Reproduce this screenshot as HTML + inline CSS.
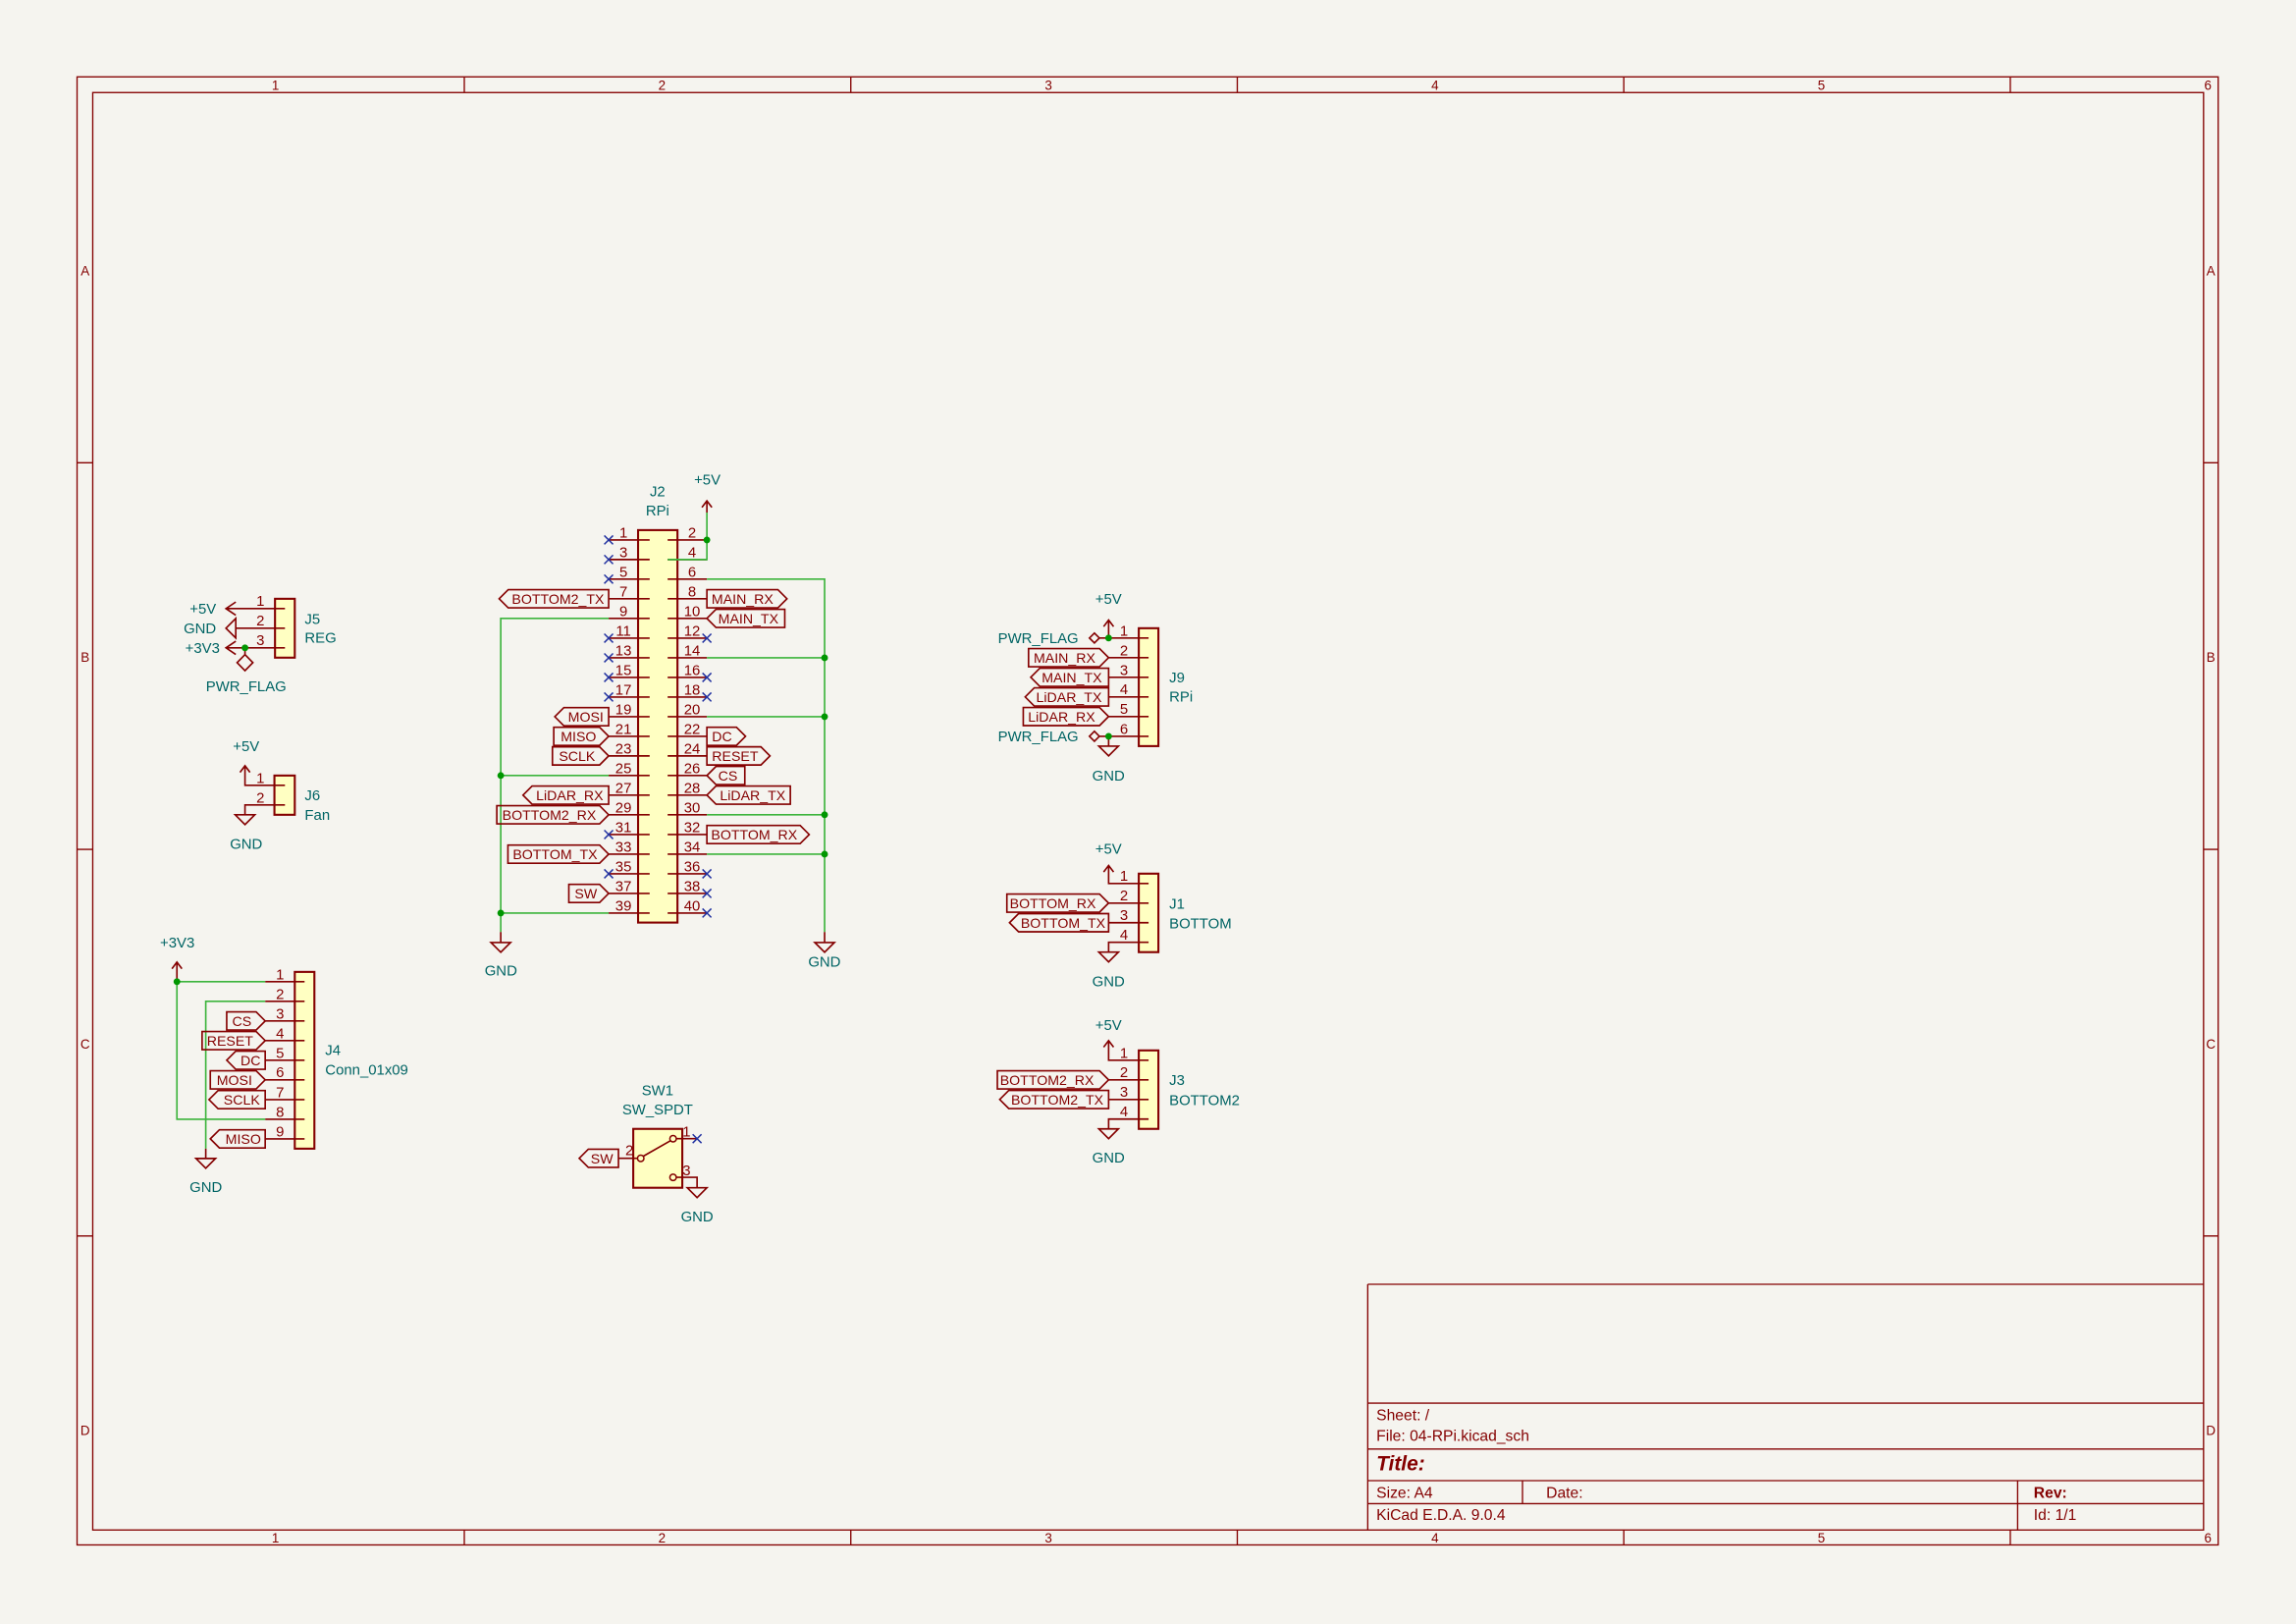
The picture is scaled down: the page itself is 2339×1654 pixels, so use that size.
<!DOCTYPE html>
<html><head><meta charset="utf-8"><style>
html,body{margin:0;padding:0;background:#f5f4ef;}
svg{display:block}
text{font-family:"Liberation Sans",sans-serif;}
.t{fill:#006464;font-size:10px}
.n{fill:#840000;font-size:10px}
.l{fill:#840000;font-size:9.5px;text-anchor:middle}
.f{fill:#840000;font-size:9px}
.p{stroke:#840000;stroke-width:1.1;fill:none}
.w{stroke:#3cb43c;stroke-width:1.1;fill:none}
.b{stroke:#840000;stroke-width:1.4;fill:#ffffc2}
.lb{stroke:#840000;stroke-width:1.1;fill:none}
.x{stroke:#2030a0;stroke-width:1;fill:none}
.fr{stroke:#840000;stroke-width:0.9;fill:none}
</style></head><body>
<svg width="2339" height="1654" viewBox="0 0 1568 1109" xmlns="http://www.w3.org/2000/svg">
<rect x="0" y="0" width="1568" height="1109" fill="#f5f4ef"/>
<!-- frame -->
<rect class="fr" x="52.5" y="52.5" width="1462.5" height="1002.5"/>
<rect class="fr" x="63.2" y="63.2" width="1441.8" height="981.6"/>
<path class="fr" d="M317 52.5V63.2M581 52.5V63.2M845 52.5V63.2M1109 52.5V63.2M1373 52.5V63.2M317 1044.8V1055M581 1044.8V1055M845 1044.8V1055M1109 1044.8V1055M1373 1044.8V1055M52.5 316H63.2M52.5 580H63.2M52.5 844H63.2M1505 316H1515M1505 580H1515M1505 844H1515"/>
<g class="f" text-anchor="middle">
<text x="188" y="61.5">1</text><text x="452" y="61.5">2</text><text x="716" y="61.5">3</text><text x="980" y="61.5">4</text><text x="1244" y="61.5">5</text><text x="1508" y="61.5">6</text>
<text x="188" y="1053.5">1</text><text x="452" y="1053.5">2</text><text x="716" y="1053.5">3</text><text x="980" y="1053.5">4</text><text x="1244" y="1053.5">5</text><text x="1508" y="1053.5">6</text>
<text x="58" y="188">A</text><text x="58" y="452">B</text><text x="58" y="716">C</text><text x="58" y="980">D</text>
<text x="1510" y="188">A</text><text x="1510" y="452">B</text><text x="1510" y="716">C</text><text x="1510" y="980">D</text>
</g>
<!-- title block -->
<path class="fr" d="M934.1 877H1505M934.1 877V1044.8M934.1 958.2H1505M934.1 989.5H1505M934.1 1011.1H1505M934.1 1026.8H1505M1039.8 1011.1V1026.8M1378 1011.1V1044.8"/>
<g class="n" style="font-size:10.5px">
<text x="940" y="970">Sheet: /</text>
<text x="940" y="984">File: 04-RPi.kicad_sch</text>
<text x="940" y="1004" style="font-size:14px;font-weight:bold;font-style:italic">Title:</text>
<text x="940" y="1023">Size: A4</text>
<text x="1056" y="1023">Date:</text>
<text x="1389" y="1023" style="font-weight:bold">Rev:</text>
<text x="940" y="1038">KiCad E.D.A. 9.0.4</text>
<text x="1389" y="1038">Id: 1/1</text>
</g>

<!-- ===== J2 ===== -->
<rect class="b" x="435.7" y="362" width="26.9" height="268"/>
<path class="p" d="M415.6 368.7H443.6M415.6 382.1H443.6M415.6 395.5H443.6M415.6 408.9H443.6M415.6 422.3H443.6M415.6 435.8H443.6M415.6 449.2H443.6M415.6 462.6H443.6M415.6 476H443.6M415.6 489.4H443.6M415.6 502.8H443.6M415.6 516.2H443.6M415.6 529.6H443.6M415.6 543H443.6M415.6 556.4H443.6M415.6 569.9H443.6M415.6 583.3H443.6M415.6 596.7H443.6M415.6 610.1H443.6M415.6 623.5H443.6
M455.9 368.7H482.7M455.9 382.1H482.7M455.9 395.5H482.7M455.9 408.9H482.7M455.9 422.3H482.7M455.9 435.8H482.7M455.9 449.2H482.7M455.9 462.6H482.7M455.9 476H482.7M455.9 489.4H482.7M455.9 502.8H482.7M455.9 516.2H482.7M455.9 529.6H482.7M455.9 543H482.7M455.9 556.4H482.7M455.9 569.9H482.7M455.9 583.3H482.7M455.9 596.7H482.7M455.9 610.1H482.7M455.9 623.5H482.7"/>
<g class="n" text-anchor="middle">
<text x="425.7" y="367">1</text><text x="425.7" y="380.4">3</text><text x="425.7" y="393.8">5</text><text x="425.7" y="407.2">7</text><text x="425.7" y="420.6">9</text><text x="425.7" y="434.1">11</text><text x="425.7" y="447.5">13</text><text x="425.7" y="460.9">15</text><text x="425.7" y="474.3">17</text><text x="425.7" y="487.7">19</text><text x="425.7" y="501.1">21</text><text x="425.7" y="514.5">23</text><text x="425.7" y="527.9">25</text><text x="425.7" y="541.3">27</text><text x="425.7" y="554.7">29</text><text x="425.7" y="568.2">31</text><text x="425.7" y="581.6">33</text><text x="425.7" y="595">35</text><text x="425.7" y="608.4">37</text><text x="425.7" y="621.8">39</text>
<text x="472.6" y="367">2</text><text x="472.6" y="380.4">4</text><text x="472.6" y="393.8">6</text><text x="472.6" y="407.2">8</text><text x="472.6" y="420.6">10</text><text x="472.6" y="434.1">12</text><text x="472.6" y="447.5">14</text><text x="472.6" y="460.9">16</text><text x="472.6" y="474.3">18</text><text x="472.6" y="487.7">20</text><text x="472.6" y="501.1">22</text><text x="472.6" y="514.5">24</text><text x="472.6" y="527.9">26</text><text x="472.6" y="541.3">28</text><text x="472.6" y="554.7">30</text><text x="472.6" y="568.2">32</text><text x="472.6" y="581.6">34</text><text x="472.6" y="595">36</text><text x="472.6" y="608.4">38</text><text x="472.6" y="621.8">40</text>
</g>
<text class="t" x="449" y="339" text-anchor="middle">J2</text>
<text class="t" x="449" y="352" text-anchor="middle">RPi</text>
<!-- no connects J2 -->
<path class="x" d="M412.6 365.7l6 6m0 -6l-6 6M412.6 379.1l6 6m0 -6l-6 6M412.6 392.5l6 6m0 -6l-6 6M412.6 432.8l6 6m0 -6l-6 6M412.6 446.2l6 6m0 -6l-6 6M412.6 459.6l6 6m0 -6l-6 6M412.6 473l6 6m0 -6l-6 6M412.6 566.9l6 6m0 -6l-6 6M412.6 593.7l6 6m0 -6l-6 6
M479.7 432.8l6 6m0 -6l-6 6M479.7 459.6l6 6m0 -6l-6 6M479.7 473l6 6m0 -6l-6 6M479.7 593.7l6 6m0 -6l-6 6M479.7 607.1l6 6m0 -6l-6 6M479.7 620.5l6 6m0 -6l-6 6"/>
<!-- +5V -->
<path class="w" d="M482.7 350V382.1H455.9"/>
<path class="p" d="M482.7 342V350M479.3 346.5L482.7 342L486.1 346.5"/>
<circle cx="482.7" cy="368.7" r="2.3" fill="#009600"/>
<text class="t" x="483" y="331" text-anchor="middle">+5V</text>
<!-- right GND bus -->
<path class="w" d="M482.7 395.5H563.1V636.5M482.7 449.2H563.1M482.7 489.4H563.1M482.7 556.4H563.1M482.7 583.3H563.1"/>
<path class="p" d="M563.1 636.5V643.6M556.4 643.6H569.8L563.1 650.3Z"/>
<circle cx="563.1" cy="449.2" r="2.3" fill="#009600"/><circle cx="563.1" cy="489.4" r="2.3" fill="#009600"/><circle cx="563.1" cy="556.4" r="2.3" fill="#009600"/><circle cx="563.1" cy="583.3" r="2.3" fill="#009600"/>
<text class="t" x="563" y="660" text-anchor="middle">GND</text>
<!-- left GND bus -->
<path class="w" d="M415.6 422.3H341.9V636.5M341.9 529.6H415.6M341.9 623.5H415.6"/>
<path class="p" d="M341.9 636.5V643.6M335.2 643.6H348.6L341.9 650.3Z"/>
<circle cx="341.9" cy="529.6" r="2.3" fill="#009600"/><circle cx="341.9" cy="623.5" r="2.3" fill="#009600"/>
<text class="t" x="342" y="666" text-anchor="middle">GND</text>
<!-- J2 labels -->
<g class="lb">
<path d="M340.8 408.9L347 402.7H415.6V415.1H347Z"/>
<path d="M378.8 489.4L385 483.2H415.6V495.6H385Z"/>
<path d="M378.1 496.6H409.4L415.6 502.8L409.4 509H378.1Z"/>
<path d="M377.2 510H409.4L415.6 516.2L409.4 522.4H377.2Z"/>
<path d="M357.1 543L363.3 536.8H415.6V549.2H363.3Z"/>
<path d="M339.2 550.2H409.4L415.6 556.4L409.4 562.6H339.2Z"/>
<path d="M346.8 577.1H409.4L415.6 583.3L409.4 589.5H346.8Z"/>
<path d="M388.4 603.9H409.4L415.6 610.1L409.4 616.3H388.4Z"/>
<path d="M482.7 402.7H531.2L537.4 408.9L531.2 415.1H482.7Z"/>
<path d="M482.7 422.3L488.9 416.1H535.9V428.5H488.9Z"/>
<path d="M482.7 496.6H502.9L509.1 502.8L502.9 509H482.7Z"/>
<path d="M482.7 510H519.6L525.8 516.2L519.6 522.4H482.7Z"/>
<path d="M482.7 529.6L488.9 523.4H508.6V535.8H488.9Z"/>
<path d="M482.7 543L488.9 536.8H539.7V549.2H488.9Z"/>
<path d="M482.7 563.7H546.4L552.6 569.9L546.4 576.1H482.7Z"/>
</g>
<g class="l">
<text x="381" y="412.4">BOTTOM2_TX</text>
<text x="400" y="492.9">MOSI</text>
<text x="395" y="506.3">MISO</text>
<text x="394" y="519.7">SCLK</text>
<text x="389" y="546.5">LiDAR_RX</text>
<text x="375" y="559.9">BOTTOM2_RX</text>
<text x="379" y="586.8">BOTTOM_TX</text>
<text x="400" y="613.6">SW</text>
<text x="507" y="412.4">MAIN_RX</text>
<text x="511" y="425.8">MAIN_TX</text>
<text x="493" y="506.3">DC</text>
<text x="502" y="519.7">RESET</text>
<text x="497" y="533.1">CS</text>
<text x="514" y="546.5">LiDAR_TX</text>
<text x="515" y="573.4">BOTTOM_RX</text>
</g>

<!-- ===== J5 ===== -->
<rect class="b" x="187.7" y="408.9" width="13.5" height="40.2"/>
<path class="p" d="M154.2 415.6H194.5M160.9 429H194.5M154.2 442.4H194.5M160.9 411.1L154.2 415.6L160.9 420.1M160.9 422.3V435.7L154.2 429Z M160.9 437.9L154.2 442.4L160.9 446.9M167.2 442.4V447L161.8 452.5L167.2 458L172.6 452.5L167.2 447"/>
<circle cx="167.2" cy="442.4" r="2.3" fill="#009600"/>
<g class="n" text-anchor="middle"><text x="177.7" y="413.8">1</text><text x="177.7" y="427.2">2</text><text x="177.7" y="440.6">3</text></g>
<g class="t" text-anchor="end"><text x="147.5" y="419">+5V</text><text x="147.5" y="432.4">GND</text><text x="150" y="445.8">+3V3</text></g>
<text class="t" x="168" y="472" text-anchor="middle">PWR_FLAG</text>
<text class="t" x="208" y="426">J5</text><text class="t" x="208" y="439">REG</text>

<!-- ===== J6 ===== -->
<rect class="b" x="187.3" y="529.6" width="13.9" height="26.8"/>
<path class="p" d="M167.2 522.9V536.3H194.5M163.8 527.4L167.2 522.9L170.6 527.4M194.5 549.7H167.2V556.4M160.5 556.4H173.9L167.2 563.1Z"/>
<g class="n" text-anchor="middle"><text x="177.7" y="534.6">1</text><text x="177.7" y="548">2</text></g>
<text class="t" x="168" y="513" text-anchor="middle">+5V</text>
<text class="t" x="168" y="579.5" text-anchor="middle">GND</text>
<text class="t" x="208" y="546.5">J6</text><text class="t" x="208" y="560">Fan</text>

<!-- ===== J4 ===== -->
<rect class="b" x="201.2" y="663.7" width="13.4" height="120.7"/>
<path class="p" d="M181 670.4H207.9M181 683.8H207.9M181 697.2H207.9M181 710.6H207.9M181 724H207.9M181 737.4H207.9M181 750.9H207.9M181 764.3H207.9M181 777.7H207.9"/>
<g class="n" text-anchor="middle"><text x="191.1" y="668.7">1</text><text x="191.1" y="682.1">2</text><text x="191.1" y="695.5">3</text><text x="191.1" y="708.9">4</text><text x="191.1" y="722.3">5</text><text x="191.1" y="735.7">6</text><text x="191.1" y="749.2">7</text><text x="191.1" y="762.6">8</text><text x="191.1" y="776">9</text></g>
<path class="w" d="M181 670.4H120.7V764.3H181M181 683.8H140.4V784.4"/>
<path class="p" d="M120.7 657V670.4M117.3 661.5L120.7 657L124.1 661.5M140.4 784.4V791.1M133.7 791.1H147.1L140.4 797.8Z"/>
<circle cx="120.7" cy="670.4" r="2.3" fill="#009600"/>
<text class="t" x="121" y="647" text-anchor="middle">+3V3</text>
<text class="t" x="140.5" y="814" text-anchor="middle">GND</text>
<text class="t" x="222" y="720.5">J4</text><text class="t" x="222" y="734">Conn_01x09</text>
<g class="lb">
<path d="M154.7 691H174.8L181 697.2L174.8 703.4H154.7Z"/>
<path d="M137.9 704.4H174.8L181 710.6L174.8 716.8H137.9Z"/>
<path d="M154.7 724L160.9 717.8H181V730.2H160.9Z"/>
<path d="M143.5 731.2H174.8L181 737.4L174.8 743.6H143.5Z"/>
<path d="M142.6 750.9L148.8 744.7H181V757.1H148.8Z"/>
<path d="M143.5 777.7L149.7 771.5H181V783.9H149.7Z"/>
</g>
<g class="l">
<text x="165" y="700.7">CS</text><text x="157" y="714.1">RESET</text><text x="171" y="727.5">DC</text><text x="160" y="740.9">MOSI</text><text x="165" y="754.4">SCLK</text><text x="166" y="781.2">MISO</text>
</g>

<!-- ===== SW1 ===== -->
<rect class="b" x="432.4" y="770.9" width="33.5" height="40.2"/>
<path class="p" d="M422.3 791H435.3M439.2 789.6L457.8 779M461.8 777.6H476M461.8 804H476V811.1M469.3 811.1H482.7L476 817.8Z"/>
<circle cx="437.5" cy="791" r="2.2" fill="none" stroke="#840000" stroke-width="1"/>
<circle cx="459.6" cy="777.6" r="2.2" fill="none" stroke="#840000" stroke-width="1"/>
<circle cx="459.6" cy="804" r="2.2" fill="none" stroke="#840000" stroke-width="1"/>
<path class="x" d="M473 774.6l6 6m0 -6l-6 6"/>
<path class="lb" d="M395.5 791L401.7 784.8H422.3V797.2H401.7Z"/>
<text class="l" x="411" y="794.5">SW</text>
<g class="n"><text x="427" y="789">2</text><text x="466" y="776">1</text><text x="466" y="802.5">3</text></g>
<text class="t" x="449" y="748" text-anchor="middle">SW1</text>
<text class="t" x="449" y="761" text-anchor="middle">SW_SPDT</text>
<text class="t" x="476" y="834" text-anchor="middle">GND</text>

<!-- ===== J9 ===== -->
<rect class="b" x="777.7" y="429" width="13.4" height="80.5"/>
<path class="p" d="M757.1 423.4V435.7H784.4M753.7 427.9L757.1 423.4L760.5 427.9M757.1 449.1H784.4M757.1 462.5H784.4M757.1 475.9H784.4M757.1 489.3H784.4M750.8 502.8H784.4M757.1 502.8V509.5M750.4 509.5H763.8L757.1 516.2ZM750.8 435.7H757.1M750.8 435.7L747.4 432.3L744 435.7L747.4 439.1ZM750.8 502.8L747.4 499.4L744 502.8L747.4 506.2Z"/>
<circle cx="757.1" cy="435.7" r="2.3" fill="#009600"/><circle cx="757.1" cy="502.8" r="2.3" fill="#009600"/>
<g class="n" text-anchor="middle"><text x="767.6" y="434">1</text><text x="767.6" y="447.4">2</text><text x="767.6" y="460.8">3</text><text x="767.6" y="474.2">4</text><text x="767.6" y="487.6">5</text><text x="767.6" y="501.1">6</text></g>
<text class="t" x="757" y="412.5" text-anchor="middle">+5V</text>
<text class="t" x="757" y="533" text-anchor="middle">GND</text>
<g class="t" text-anchor="end"><text x="736.5" y="439.2">PWR_FLAG</text><text x="736.5" y="506.3">PWR_FLAG</text></g>
<text class="t" x="798.5" y="466">J9</text><text class="t" x="798.5" y="479">RPi</text>
<g class="lb">
<path d="M702.4 442.9H750.9L757.1 449.1L750.9 455.3H702.4Z"/>
<path d="M703.9 462.5L710.1 456.3H757.1V468.7H710.1Z"/>
<path d="M700.1 475.9L706.3 469.7H757.1V482.1H706.3Z"/>
<path d="M698.8 483.1H750.9L757.1 489.3L750.9 495.5H698.8Z"/>
</g>
<g class="l"><text x="727" y="452.6">MAIN_RX</text><text x="732" y="466">MAIN_TX</text><text x="730" y="479.4">LiDAR_TX</text><text x="725" y="492.8">LiDAR_RX</text></g>

<!-- ===== J1 ===== -->
<rect class="b" x="777.7" y="596.6" width="13.4" height="53.6"/>
<path class="p" d="M757.1 591V603.3H784.4M753.7 595.5L757.1 591L760.5 595.5M757.1 616.7H784.4M757.1 630.1H784.4M784.4 643.5H757.1V650.2M750.4 650.2H763.8L757.1 656.9Z"/>
<g class="n" text-anchor="middle"><text x="767.6" y="601.6">1</text><text x="767.6" y="615">2</text><text x="767.6" y="628.4">3</text><text x="767.6" y="641.8">4</text></g>
<text class="t" x="757" y="583" text-anchor="middle">+5V</text>
<text class="t" x="757" y="673.5" text-anchor="middle">GND</text>
<text class="t" x="798.5" y="620.5">J1</text><text class="t" x="798.5" y="634">BOTTOM</text>
<g class="lb">
<path d="M687.6 610.5H750.9L757.1 616.7L750.9 622.9H687.6Z"/>
<path d="M689.4 630.1L695.6 623.9H757.1V636.3H695.6Z"/>
</g>
<g class="l"><text x="719" y="620.2">BOTTOM_RX</text><text x="726" y="633.6">BOTTOM_TX</text></g>

<!-- ===== J3 ===== -->
<rect class="b" x="777.7" y="717.3" width="13.4" height="53.6"/>
<path class="p" d="M757.1 710.6V724H784.4M753.7 715.1L757.1 710.6L760.5 715.1M757.1 737.4H784.4M757.1 750.8H784.4M784.4 764.2H757.1V770.9M750.4 770.9H763.8L757.1 777.6Z"/>
<g class="n" text-anchor="middle"><text x="767.6" y="722.3">1</text><text x="767.6" y="735.7">2</text><text x="767.6" y="749.1">3</text><text x="767.6" y="762.5">4</text></g>
<text class="t" x="757" y="703.5" text-anchor="middle">+5V</text>
<text class="t" x="757" y="794" text-anchor="middle">GND</text>
<text class="t" x="798.5" y="741">J3</text><text class="t" x="798.5" y="754.5">BOTTOM2</text>
<g class="lb">
<path d="M681.1 731.2H750.9L757.1 737.4L750.9 743.6H681.1Z"/>
<path d="M682.7 750.8L688.9 744.6H757.1V757H688.9Z"/>
</g>
<g class="l"><text x="715" y="740.9">BOTTOM2_RX</text><text x="722" y="754.3">BOTTOM2_TX</text></g>
</svg>
</body></html>
